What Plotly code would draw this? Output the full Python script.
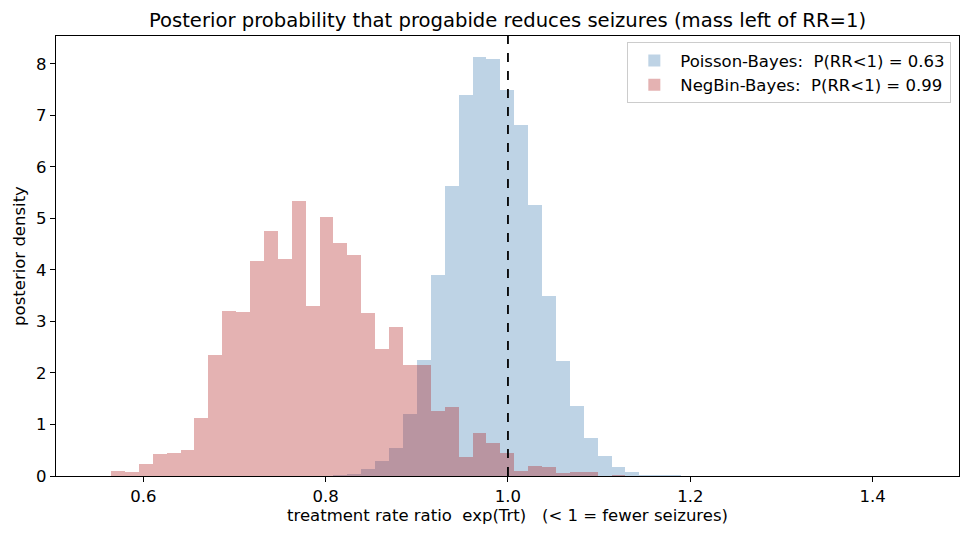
import numpy as np
import plotly.graph_objects as go

# ---- data ----
bin_start = 0.5646      # left edge of first histogram bin
bin_width = 0.01525     # common bin width

# NegBin-Bayes density per bin (bins 0..36)
negbin_density = [0.10, 0.08, 0.23, 0.43, 0.45, 0.50, 1.12, 2.34, 3.20, 3.18,
                  4.17, 4.75, 4.22, 5.33, 3.29, 5.02, 4.52, 4.28, 3.16, 2.46,
                  2.89, 2.15, 2.15, 1.26, 1.34, 0.37, 0.83, 0.65, 0.45, 0.09,
                  0.19, 0.17, 0.05, 0.07, 0.07, 0.00, 0.02]
negbin_first_bin = 0

# Poisson-Bayes density per bin (bins 16..40)
poisson_density = [0.01, 0.04, 0.13, 0.29, 0.54, 1.20, 2.25, 3.90, 5.63, 7.40,
                   8.14, 8.10, 7.50, 6.82, 5.26, 3.50, 2.23, 1.36, 0.74, 0.39,
                   0.17, 0.08, 0.02, 0.01, 0.01]
poisson_first_bin = 16

NB = "\u00a0"  # keep multiple spaces visible
poisson_label = "Poisson-Bayes:" + NB * 2 + "P(RR<1) = 0.63"
negbin_label = "NegBin-Bayes:" + NB * 2 + "P(RR<1) = 0.99"
title_text = "Posterior probability that progabide reduces seizures (mass left of RR=1)"
x_title = "treatment rate ratio" + NB * 2 + "exp(Trt)" + NB * 3 + "(< 1 = fewer seizures)"
y_title = "posterior density"
x_ticks = [0.6, 0.8, 1.0, 1.2, 1.4]
y_ticks = [0, 1, 2, 3, 4, 5, 6, 7, 8]
ref_line = 1.0


def centers(first, n):
    idx = np.arange(first, first + n)
    return bin_start + (idx + 0.5) * bin_width


FONT = "DejaVu Sans"
FS = 16.5

fig = go.Figure()
fig.add_trace(go.Bar(
    x=centers(poisson_first_bin, len(poisson_density)), y=poisson_density,
    width=bin_width, name=poisson_label,
    marker=dict(color="rgba(70,130,180,0.35)", line=dict(width=0)),
))
fig.add_trace(go.Bar(
    x=centers(negbin_first_bin, len(negbin_density)), y=negbin_density,
    width=bin_width, name=negbin_label,
    marker=dict(color="rgba(178,34,34,0.35)", line=dict(width=0)),
))

fig.add_shape(type="line", x0=ref_line, x1=ref_line, y0=0, y1=1,
              xref="x", yref="paper",
              line=dict(color="black", width=1.8, dash="dash"))

fig.update_layout(
    width=970, height=536,
    margin=dict(l=56, r=11, t=36, b=60),
    paper_bgcolor="white", plot_bgcolor="white",
    barmode="overlay", bargap=0,
    font=dict(family=FONT, size=FS, color="black"),
    title=dict(text=title_text, x=0.5, xanchor="center", y=0.962, yanchor="middle",
               xref="paper", font=dict(size=19.6, family=FONT)),
    legend=dict(x=0.9915, y=0.986, xanchor="right", yanchor="top",
                bgcolor="rgba(255,255,255,0.8)", bordercolor="#cccccc", borderwidth=1,
                font=dict(size=FS, family=FONT), traceorder="normal",
                itemwidth=42, tracegroupgap=0),
    showlegend=True,
)

fig.update_xaxes(
    range=[0.5042, 1.4948], tickvals=x_ticks, tickformat=".1f",
    showline=True, linecolor="black", linewidth=1.2, mirror=True,
    ticks="outside", ticklen=5, tickcolor="black", showgrid=False, zeroline=False,
    tickfont=dict(size=FS),
    title=dict(text=x_title, standoff=4, font=dict(size=FS)),
)
fig.update_yaxes(
    range=[0, 8.54], tickvals=y_ticks,
    showline=True, linecolor="black", linewidth=1.2, mirror=True,
    ticks="outside", ticklen=5, tickcolor="black", showgrid=False, zeroline=False,
    tickfont=dict(size=FS),
    title=dict(text=y_title, standoff=6, font=dict(size=FS)),
)

fig.write_html("out.html")
